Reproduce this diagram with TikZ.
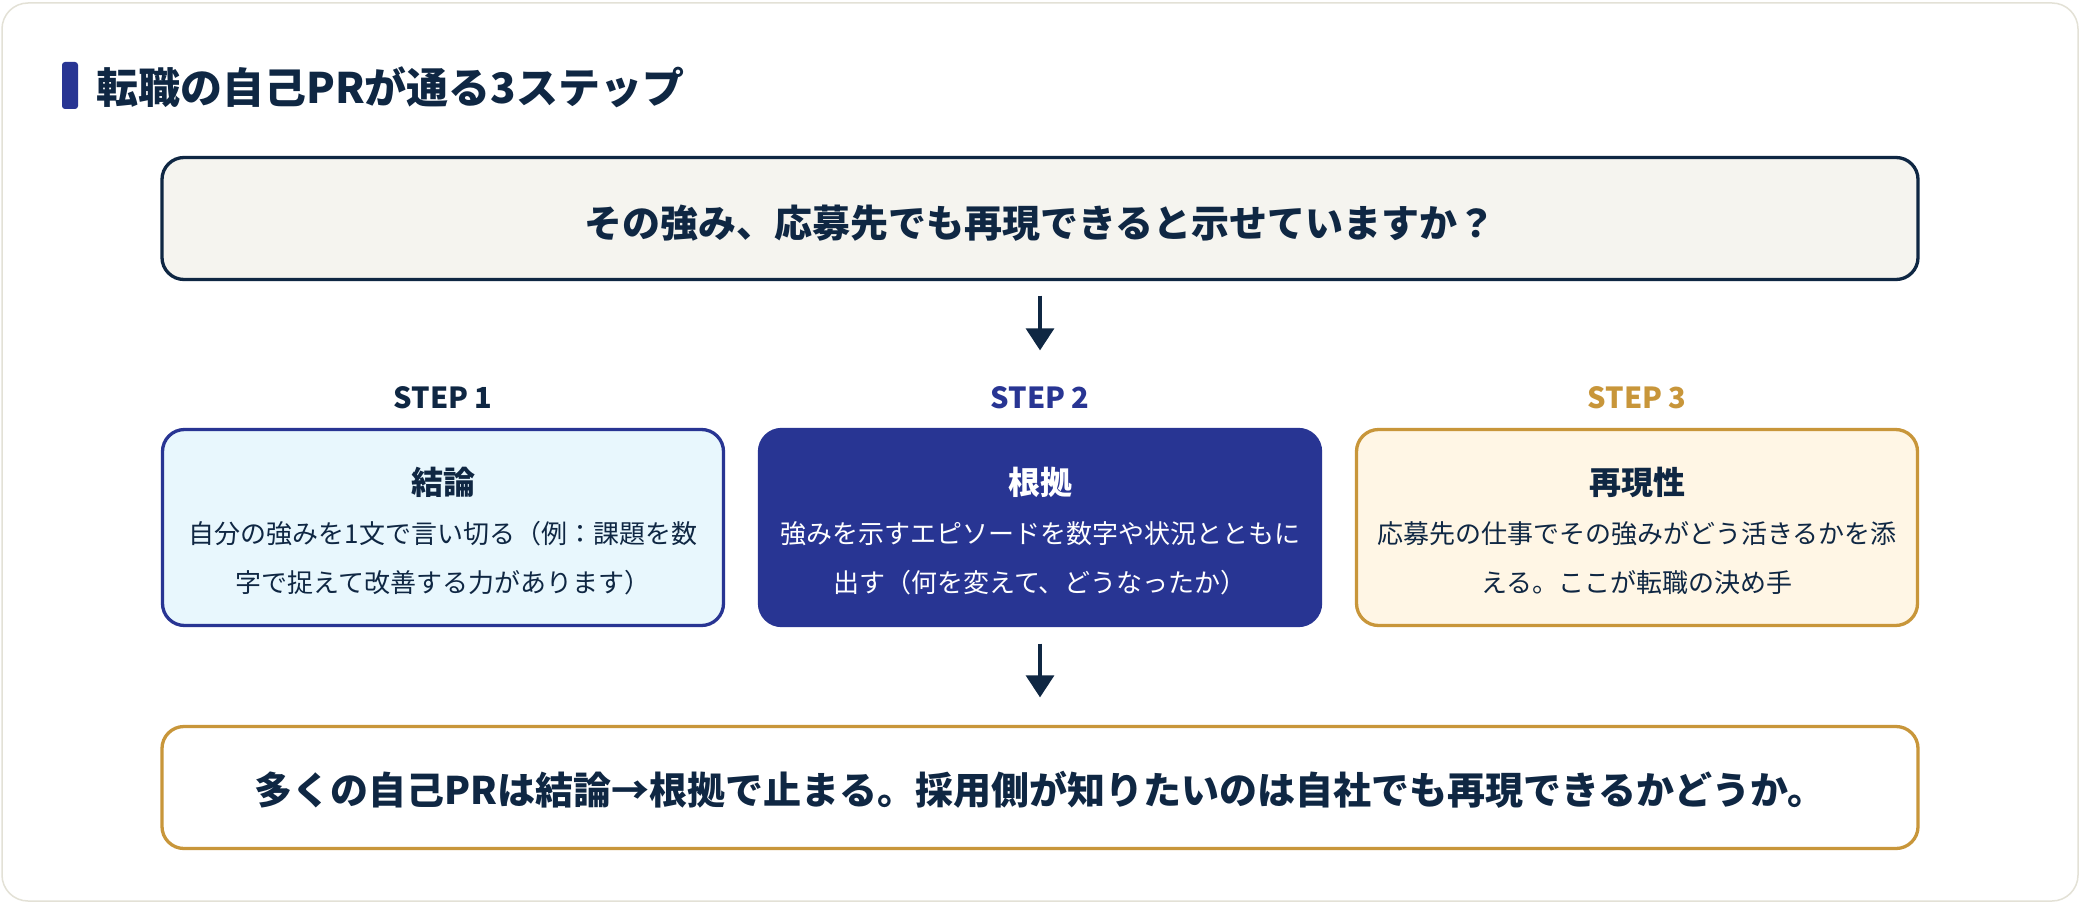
\documentclass[tikz,border=0pt]{standalone}
\usepackage{fontspec}
\setmainfont{Noto Sans CJK JP}
\usetikzlibrary{arrows.meta}
\definecolor{ink}{HTML}{0F2743}
\definecolor{indigo}{HTML}{283593}
\definecolor{gold}{HTML}{C8963A}
\definecolor{lightblue}{HTML}{E8F7FD}
\definecolor{cream}{HTML}{FFF6E5}
\definecolor{topfill}{HTML}{F5F4EF}
\definecolor{framecol}{HTML}{E3E1D6}
\begin{document}
\begin{tikzpicture}[x=0.5pt,y=-0.5pt,
  box/.style={rounded corners=11pt, line width=1.65pt, inner sep=0pt},
  wide/.style={box, minimum width=878pt, minimum height=61pt},
  stepbox/.style={box, minimum width=280.5pt, minimum height=98pt},
  steplabel/.style={font=\fontsize{14.5}{17}\selectfont\bfseries},
  steptitle/.style={font=\fontsize{16}{19}\selectfont\bfseries},
  stepbody/.style={font=\fontsize{13}{24.5}\selectfont, align=center},
  bigtext/.style={font=\fontsize{19}{23}\selectfont\bfseries, text=ink},
  arr/.style={draw=ink, line width=1.65pt, -{Triangle[width=14pt,length=11pt]}}
]
\useasboundingbox (0,0) rectangle (2080,904);
\fill[white] (0,0) rectangle (2080,904);
\draw[framecol, line width=0.75pt, rounded corners=13pt] (2,3) rectangle (2078,901);
% title
\fill[indigo, rounded corners=1.5pt] (62,62) rectangle (78,109);
\node[anchor=west, font=\fontsize{21}{25}\selectfont\bfseries, text=ink, inner sep=0pt] (title) at (96,87) {転職の自己PRが通る3ステップ};
% top question
\node[wide, draw=ink, fill=topfill] (q) at (1040,218.5) {};
\node[bigtext] (qt) at (1040,223) {その強み、応募先でも再現できると示せていますか？};
% steps
\node[stepbox, draw=indigo, fill=lightblue] (s1) at (443,527.5) {};
\node[stepbox, draw=indigo, fill=indigo] (s2) at (1040,527.5) {};
\node[stepbox, draw=gold, fill=cream] (s3) at (1637,527.5) {};
\node[steplabel, text=ink] (l1) at (443,398) {STEP 1};
\node[steplabel, text=indigo] (l2) at (1040,398) {STEP 2};
\node[steplabel, text=gold] (l3) at (1637,398) {STEP 3};
\node[steptitle, text=ink] (t1) at (443,482) {結論};
\node[steptitle, text=white] (t2) at (1040,482) {根拠};
\node[steptitle, text=ink] (t3) at (1637,482) {再現性};
\node[stepbody, text=ink] (b1) at (443,558.5) {自分の強みを1文で言い切る（例：課題を数\\字で捉えて改善する力があります）};
\node[stepbody, text=white] (b2) at (1040,558.5) {強みを示すエピソードを数字や状況とともに\\出す（何を変えて、どうなったか）};
\node[stepbody, text=ink] (b3) at (1637,558.5) {応募先の仕事でその強みがどう活きるかを添\\える。ここが転職の決め手};
% bottom
\node[wide, draw=gold, fill=white] (bt) at (1040,787.5) {};
\node[bigtext] (btt) at (1040,790) {多くの自己PRは結論→根拠で止まる。採用側が知りたいのは自社でも再現できるかどうか。};
% arrows
\draw[arr, shorten <=7.25pt, shorten >=38.75pt] (q.south) -- (s2.north);
\draw[arr, shorten <=8.25pt, shorten >=13.75pt] (s2.south) -- (bt.north);
\end{tikzpicture}
\end{document}
